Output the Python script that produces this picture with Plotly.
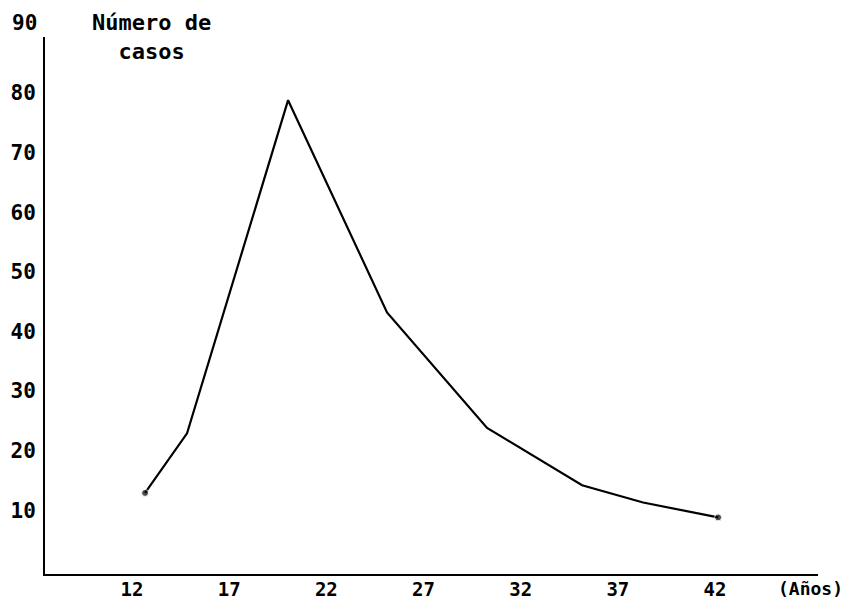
import plotly.graph_objects as go

# Data
edad = [12.67, 14.83, 20.03, 25.12, 30.27, 35.16, 38.3, 42.16]
casos = [12.9, 22.9, 78.8, 43.2, 23.8, 14.2, 11.3, 8.8]

x_ticks = [12, 17, 22, 27, 32, 37, 42]
y_ticks = [10, 20, 30, 40, 50, 60, 70, 80]
y_top_label = 90
y_title = "Número de<br>casos"
x_title = "(Años)"

FONT = "DejaVu Sans Mono"

marker_sizes = [7] + [0] * (len(edad) - 2) + [7]

fig = go.Figure()
fig.add_trace(go.Scatter(
    x=edad, y=casos, mode="lines+markers",
    line=dict(color="black", width=2.2),
    marker=dict(color="black", size=marker_sizes),
    showlegend=False, hoverinfo="skip",
))

# The page body has an 8px default margin, so the figure is 860x602.
fig.update_layout(
    width=860, height=602,
    margin=dict(l=37, r=50, t=29, b=36),
    paper_bgcolor="white", plot_bgcolor="white",
    font=dict(family=FONT, color="black", size=17),
    xaxis=dict(
        range=[7.52, 47.3], tickvals=x_ticks, ticktext=[str(v) for v in x_ticks],
        showline=True, linecolor="black", linewidth=2, showgrid=False,
        zeroline=False, ticks="", ticklabelstandoff=-3, automargin=False,
        tickfont=dict(family=FONT, size=19, weight="bold"),
    ),
    yaxis=dict(
        range=[-0.7, 89.4], tickvals=y_ticks, ticktext=[str(v) for v in y_ticks],
        showline=True, linecolor="black", linewidth=2, showgrid=False,
        zeroline=False, ticks="", ticklabelstandoff=3, automargin=False,
        tickfont=dict(family=FONT, size=21, weight="bold"),
    ),
    annotations=[
        dict(text=str(y_top_label), xref="paper", yref="paper", x=0, y=1,
             xanchor="right", yanchor="middle", xshift=-6, yshift=14,
             showarrow=False, font=dict(family=FONT, size=21, weight="bold")),
        dict(text=y_title, xref="paper", yref="paper", x=0.138, y=1.0,
             xanchor="center", yanchor="middle", showarrow=False, align="center",
             font=dict(family=FONT, size=22, weight="bold")),
        dict(text=x_title, xref="paper", yref="paper", x=0.99, y=0,
             xanchor="center", yanchor="top", yshift=-2, showarrow=False,
             font=dict(family=FONT, size=18, weight="bold")),
    ],
)

fig.write_html("out.html")
